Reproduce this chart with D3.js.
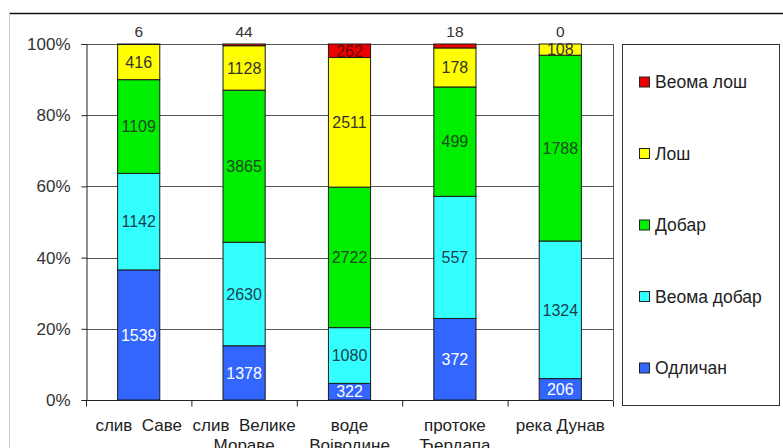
<!DOCTYPE html>
<html>
<head>
<meta charset="utf-8">
<script src="https://cdn.jsdelivr.net/npm/d3@7"></script>
<style>
  body { margin: 0; background: #fff; }
  text { font-family: "Liberation Sans", Arial, sans-serif; }
</style>
</head>
<body>
<svg width="783" height="448"></svg>
<script>
var categories = [["слив  Саве"], ["слив  Велике", "Мораве"], ["воде", "Војводине"], ["протоке", "Ђердапа"], ["река Дунав"]];
var series = ["Одличан", "Веома добар", "Добар", "Лош", "Веома лош"];
var odlican = [1539, 1378, 322, 372, 206];
var veomaDobar = [1142, 2630, 1080, 557, 1324];
var dobar = [1109, 3865, 2722, 499, 1788];
var los = [416, 1128, 2511, 178, 108];
var veomaLos = [6, 44, 262, 18, 0];
var yTicks = [0, 0.2, 0.4, 0.6, 0.8, 1];

var colors = ["#3366ff", "#33ffff", "#00ee00", "#ffff00", "#ee0000"];
var textColors = ["#ffffff", "#1b3f4f", "#1d4a1d", "#333333", "#6a0000"];
var values = [odlican, veomaDobar, dobar, los, veomaLos];

var svg = d3.select("svg");

// outer chart frame
svg.append("line").attr("x1", 9.5).attr("x2", 783).attr("y1", 13.5).attr("y2", 13.5)
    .attr("stroke", "#111").attr("stroke-width", 1.5);
svg.append("line").attr("x1", 9.5).attr("x2", 9.5).attr("y1", 13.5).attr("y2", 448)
    .attr("stroke", "#ccc");

var plotL = 86, plotR = 613, plotT = 44, plotB = 400;

var x = d3.scaleBand().domain(d3.range(categories.length)).range([plotL, plotR]).paddingInner(0.6).paddingOuter(0.3);
var y = d3.scaleLinear().domain([0, 1]).range([plotB, plotT]);

// plot border
svg.append("line").attr("x1", plotL).attr("x2", plotR).attr("y1", plotT + 0.5).attr("y2", plotT + 0.5).attr("stroke", "#555");
svg.append("line").attr("x1", plotR + 0.5).attr("x2", plotR + 0.5).attr("y1", plotT).attr("y2", plotB).attr("stroke", "#555");

// grid
svg.append("g").selectAll("line").data(yTicks.slice(1, -1)).join("line")
    .attr("x1", plotL).attr("x2", plotR)
    .attr("y1", function(d){ return Math.round(y(d)) + 0.5; })
    .attr("y2", function(d){ return Math.round(y(d)) + 0.5; })
    .attr("stroke", "#555");

// y axis
var yAxis = svg.append("g").attr("transform", "translate(" + (plotL + 0.5) + ",0)")
    .call(d3.axisLeft(y).tickValues(yTicks).tickFormat(d3.format(".0%")).tickSize(5).tickPadding(11));
yAxis.select(".domain").attr("stroke", "#222");
yAxis.selectAll(".tick line").attr("stroke", "#222");
yAxis.selectAll("text").attr("font-size", 17).attr("fill", "#333").attr("font-family", "Liberation Sans, Arial, sans-serif");

// stacked bars
var totals = categories.map(function(c, i){ return d3.sum(values, function(v){ return v[i]; }); });

categories.forEach(function(c, i){
    var acc = 0;
    values.forEach(function(v, s){
        var y0 = acc / totals[i], y1 = (acc + v[i]) / totals[i];
        acc += v[i];
        var h = y(y0) - y(y1);
        if (v[i] > 0) {
            svg.append("rect")
                .attr("x", x(i)).attr("width", x.bandwidth())
                .attr("y", y(y1)).attr("height", h)
                .attr("fill", colors[s]).attr("stroke", "#1a1a1a").attr("stroke-width", 1);
        }
        var ty, fill, fs;
        if (h < 8) {
            ty = plotT - 13; fill = "#333"; fs = 15.5;
        } else {
            ty = (y(y0) + y(y1)) / 2; fill = textColors[s]; fs = 16;
        }
        svg.append("text")
            .attr("x", x(i) + x.bandwidth() / 2).attr("y", ty)
            .attr("dy", "0.36em").attr("text-anchor", "middle")
            .attr("font-size", fs).attr("fill", fill)
            .text(v[i]);
    });
});

// x axis
var xAxis = svg.append("g").attr("transform", "translate(0," + (plotB + 0.5) + ")");
xAxis.append("line").attr("x1", plotL).attr("x2", plotR).attr("stroke", "#222");
var step = x.step();
xAxis.selectAll(".tk").data(d3.range(categories.length + 1)).join("line")
    .attr("x1", function(d){ return plotL + d * step + 0.5; })
    .attr("x2", function(d){ return plotL + d * step + 0.5; })
    .attr("y1", 0).attr("y2", 6).attr("stroke", "#222");
categories.forEach(function(lines, i){
    var t = xAxis.append("text").attr("text-anchor", "middle").attr("font-size", 17).attr("fill", "#222")
        .attr("x", x(i) + x.bandwidth() / 2).attr("y", 30).attr("xml:space", "preserve");
    lines.forEach(function(l, k){
        t.append("tspan").attr("x", x(i) + x.bandwidth() / 2).attr("dy", k ? 20 : 0).text(l);
    });
});

// legend
var legend = svg.append("g");
legend.append("rect").attr("x", 622.5).attr("y", 44.5).attr("width", 157).attr("height", 361)
    .attr("fill", "#fff").attr("stroke", "#333");
var legendItems = series.slice().reverse();
legendItems.forEach(function(name, k){
    var s = series.length - 1 - k;
    var cy = 82 + k * 71.5;
    legend.append("rect").attr("x", 639.5).attr("y", cy - 5).attr("width", 10).attr("height", 10)
        .attr("fill", colors[s]).attr("stroke", "#222");
    legend.append("text").attr("x", 655).attr("y", cy).attr("dy", "0.36em")
        .attr("font-size", 17.5).attr("fill", "#222").text(name);
});
</script>
</body>
</html>
